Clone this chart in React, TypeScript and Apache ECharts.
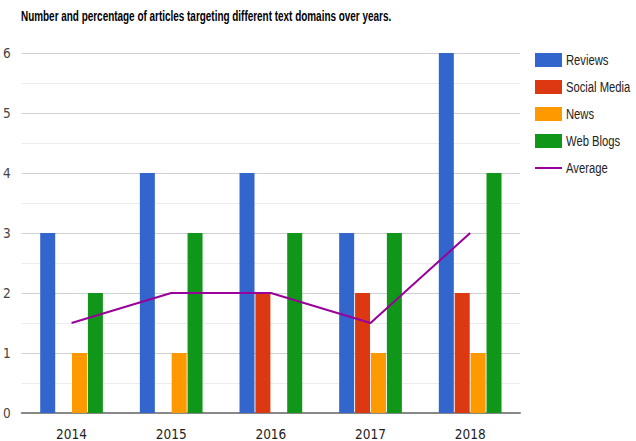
import React, { useEffect, useRef } from "react";
import * as echarts from "echarts";

const years = ["2014", "2015", "2016", "2017", "2018"];
const reviews = [3, 4, 4, 3, 6];
const socialMedia = [0, 0, 2, 2, 2];
const news = [1, 1, 0, 1, 1];
const webBlogs = [2, 3, 3, 3, 4];
const average = [1.5, 2, 2, 1.5, 3];
const titleText = "Number and percentage of articles targeting different text domains over years.";

const seriesNames = ["Reviews", "Social Media", "News", "Web Blogs", "Average"];
const seriesColors = ["#3366cc", "#dc3912", "#ff9900", "#109618", "#990099"];

export default function App() {
  const ref = useRef<HTMLDivElement>(null);
  useEffect(() => {
    if (!ref.current) return;
    const chart = echarts.init(ref.current, null, { renderer: "svg" });
    const font = "Liberation Sans";
    const narrow = "'Liberation Sans Narrow', 'DejaVu Sans Condensed', 'Liberation Sans'";
    const bar = (i: number, data: number[]) => ({
      name: seriesNames[i],
      type: "bar",
      data,
      barWidth: 15,
      barGap: "6%",
      itemStyle: { color: seriesColors[i] },
    });
    const legendItems: any[] = [];
    seriesNames.forEach((name, i) => {
      const y = 53 + i * 27;
      if (i < 4) {
        legendItems.push({
          type: "rect",
          shape: { x: 535, y, width: 27, height: 14 },
          style: { fill: seriesColors[i] },
        });
      } else {
        legendItems.push({
          type: "line",
          shape: { x1: 535, y1: y + 7, x2: 562, y2: y + 7 },
          style: { stroke: seriesColors[i], lineWidth: 2 },
        });
      }
      legendItems.push({
        type: "text",
        x: 566,
        y: y + 7,
        scaleX: 0.75,
        style: {
          text: name,
          font: `15px ${font}`,
          fill: "#222",
          verticalAlign: "middle",
        },
      });
    });
    chart.setOption({
      animation: false,
      textStyle: { fontFamily: font },
      graphic: [
        {
          type: "text",
          x: 21,
          y: 9,
          scaleX: 0.71,
          style: { text: titleText, font: `bold 14px ${font}`, fill: "#000" },
        },
        ...legendItems,
      ],
      grid: { left: 20, right: 116, top: 53, bottom: 28 },
      xAxis: {
        type: "category",
        data: years,
        axisLine: { lineStyle: { color: "#888", width: 2 } },
        axisTick: { show: false },
        axisLabel: { color: "#222", fontSize: 13.5, margin: 14, fontFamily: narrow },
      },
      yAxis: {
        type: "value",
        min: 0,
        max: 6,
        interval: 1,
        axisLine: { show: false },
        axisTick: { show: false },
        axisLabel: { color: "#444", fontSize: 13.5, margin: 11, fontFamily: narrow },
        splitLine: { lineStyle: { color: "#d0d0d0", width: 1 } },
        minorTick: { show: false, splitNumber: 2 },
        minorSplitLine: { show: true, lineStyle: { color: "#ececec", width: 1 } },
      },
      series: [
        bar(0, reviews),
        bar(1, socialMedia),
        bar(2, news),
        bar(3, webBlogs),
        {
          name: seriesNames[4],
          type: "line",
          data: average,
          symbol: "none",
          lineStyle: { color: seriesColors[4], width: 2 },
          itemStyle: { color: seriesColors[4] },
        },
      ],
    });
    return () => chart.dispose();
  }, []);
  return <div ref={ref} style={{ width: 636, height: 441, position: "absolute", left: 0, top: 0 }} />;
}
